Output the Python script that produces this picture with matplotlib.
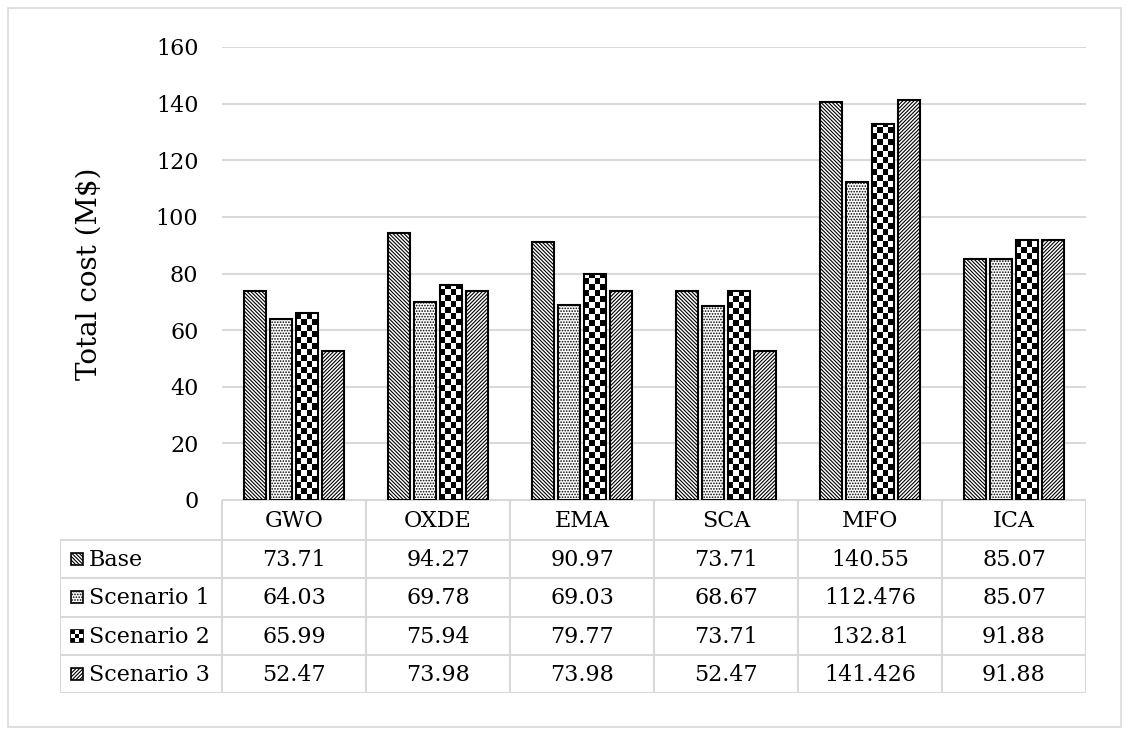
import matplotlib
matplotlib.use("Agg")
import matplotlib.pyplot as plt
import numpy as np
from matplotlib.patches import Rectangle

matplotlib.rc("font", family=["DejaVu Serif"], size=15)
plt.rcParams["hatch.linewidth"] = 0.8

algorithms = ["GWO", "OXDE", "EMA", "SCA", "MFO", "ICA"]
series_names = ["Base", "Scenario 1", "Scenario 2", "Scenario 3"]
base = [73.71, 94.27, 90.97, 73.71, 140.55, 85.07]
scenario1 = [64.03, 69.78, 69.03, 68.67, 112.476, 85.07]
scenario2 = [65.99, 75.94, 79.77, 73.71, 132.81, 91.88]
scenario3 = [52.47, 73.98, 73.98, 52.47, 141.426, 91.88]
all_series = [base, scenario1, scenario2, scenario3]
yticks = [0, 20, 40, 60, 80, 100, 120, 140, 160]

hatches = ["\\" * 9, "......", None, "/" * 9]
grid_c = "#d9d9d9"
W, H = 1129, 735

fig = plt.figure(figsize=(W / 100, H / 100), dpi=100)
fig.patches.append(Rectangle((8 / W, 8 / H), 1 - 16 / W, 1 - 16 / H, transform=fig.transFigure,
                             fill=False, edgecolor=grid_c, linewidth=1.2))

ax = fig.add_axes([222 / W, 1 - 500 / H, 864 / W, 453 / H])
x = np.arange(len(algorithms))
offsets = [-0.27, -0.09, 0.09, 0.27]
bw = 0.15


def checker(ax, x0, y0, w, h, nx, ny, clip):
    img = np.indices((ny, nx)).sum(axis=0) % 2
    im = ax.imshow(img, cmap="gray", extent=(x0, x0 + w, y0, y0 + h), aspect="auto",
                   interpolation="nearest", origin="lower", zorder=2)
    im.set_clip_path(clip)


for i, vals in enumerate(all_series):
    bars = ax.bar(x + offsets[i], vals, bw, facecolor="white", edgecolor="black",
                  linewidth=1.5, hatch=hatches[i], zorder=3)
    if hatches[i] is None:
        for b, v in zip(bars, vals):
            b.set_facecolor("none")
            ny = max(1, int(round(v / 2.12)))
            checker(ax, b.get_x(), 0, bw, ny * 2.12, 4, ny, b)

ax.set_xlim(-0.5, len(algorithms) - 0.5)
ax.set_ylim(0, 160)
ax.set_yticks(yticks)
ax.set_xticks([])
ax.grid(axis="y", color=grid_c, linewidth=1.5, zorder=0)
ax.set_axisbelow(True)
for s in ["left", "right", "top", "bottom"]:
    ax.spines[s].set_visible(False)
ax.tick_params(axis="y", length=0, pad=17, labelsize=16)
ax.set_ylabel("Total cost (M$)", fontsize=20, labelpad=38)

# data table below the plot
tx = fig.add_axes([60 / W, 1 - 693 / H, 1026 / W, 193 / H])
tx.set_xlim(60, 1086)
tx.set_ylim(693, 500)
tx.axis("off")
col_edges = [222 + 144 * k for k in range(len(algorithms) + 1)]
row_edges = [500, 540, 578, 617, 655, 693]
lk = dict(color=grid_c, linewidth=1.5)
tx.plot([222, 1086], [500, 500], **lk)
for yv in row_edges[1:]:
    tx.plot([60, 1086], [yv, yv], **lk)
tx.plot([60, 60], [540, 693], **lk)
for xv in col_edges:
    tx.plot([xv, xv], [500, 693], **lk)
for k, name in enumerate(algorithms):
    tx.text((col_edges[k] + col_edges[k + 1]) / 2, 521, name, ha="center", va="center", fontsize=16)
for r, (name, vals) in enumerate(zip(series_names, all_series)):
    yc = (row_edges[r + 1] + row_edges[r + 2]) / 2
    sq = Rectangle((71, yc - 6), 12, 12, facecolor="white", edgecolor="black",
                   linewidth=1.2, hatch=hatches[r])
    tx.add_patch(sq)
    if hatches[r] is None:
        sq.set_facecolor("none")
        checker(tx, 71, yc + 6, 12, -12, 3, 3, sq)
    tx.text(89, yc + 1, name, ha="left", va="center", fontsize=16)
    for k, v in enumerate(vals):
        tx.text((col_edges[k] + col_edges[k + 1]) / 2, yc + 1, str(v), ha="center", va="center", fontsize=16)
tx.set_xlim(60, 1086)
tx.set_ylim(693, 500)

fig.savefig("out.png", dpi=100)
